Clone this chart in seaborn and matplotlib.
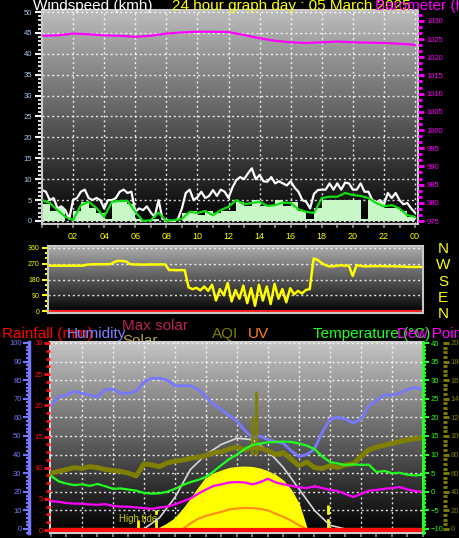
import numpy as np
import matplotlib
matplotlib.use("Agg")
import matplotlib.pyplot as plt
import seaborn as sns
from matplotlib.colors import LinearSegmentedColormap
from matplotlib.ticker import MultipleLocator, FixedLocator
from matplotlib.patches import Rectangle

# ---------------- data ----------------
hours_q = np.arange(0, 24.01, 0.25)   # 15 minute samples
hours_h = np.arange(0, 24.01, 0.5)    # 30 minute samples
hours_1 = np.arange(0, 25, 1)         # hourly samples
hour_labels = ["02", "04", "06", "08", "10", "12", "14", "16", "18", "20", "22", "00"]

wind_gust = [7.4, 7.0, 5.0, 5.5, 3.0, 3.5, 2.6, 0.5,
             5.0, 5.5, 7.0, 7.5, 5.5, 5.0, 5.5, 5.0,
             3.0, 5.0, 5.0, 5.5, 7.0, 7.5, 6.7, 7.0,
             2.2, 3.0, 2.6, 3.5, 2.0, 1.0, 5.0, 0.5,
             0.2, 0.0, 0.0, 0.5, 3.0, 6.7, 7.5, 5.0,
             5.7, 7.0, 5.5, 6.0, 7.4, 6.0, 7.5, 7.0,
             5.5, 8.0, 9.8, 10.5, 10.0, 11.4, 12.6, 10.0,
             11.0, 9.5, 9.4, 10.5, 9.0, 9.5, 9.0, 8.5,
             9.5, 8.0, 7.0, 5.0, 4.6, 3.0, 6.5, 7.4,
             7.5, 7.5, 9.0, 7.5, 9.0, 7.5, 9.2, 9.0,
             7.5, 7.5, 9.0, 7.0, 7.0, 5.0, 4.5, 5.0,
             4.0, 6.7, 5.5, 6.7, 5.0, 4.0, 4.3, 3.0,
             2.0]
wind_avg = [5.0, 4.3, 2.6, 1.0, 0.2, 3.8, 4.6, 3.1, 1.0, 4.6,
            4.8, 4.8, 2.2, 0.0, 0.2, 2.0, 0.0, 0.2, 0.5, 2.2,
            1.9, 2.4, 1.4, 2.6, 3.4, 5.0, 4.0, 4.3, 4.6, 3.6,
            3.8, 4.4, 4.3, 2.8, 2.2, 1.9, 5.5, 5.8, 5.8, 6.7,
            6.2, 6.0, 5.5, 4.3, 3.5, 3.8, 3.0, 1.4, 1.0]
wind_speed = [4.0, 2.5, 3.0, 0.0, 2.5, 4.5, 3.0, 2.0, 0.5, 4.5,
              5.0, 4.0, 0.5, 0.0, 0.5, 0.0, 0.0, 0.0, 2.0, 2.5,
              1.5, 2.5, 2.0, 2.5, 2.5, 4.5, 3.5, 5.0, 3.5, 3.5,
              5.0, 3.5, 4.5, 2.5, 0.5, 3.0, 5.0, 5.0, 5.0, 5.0,
              5.0, 0.5, 5.0, 4.5, 3.0, 3.0, 2.5, 1.0, 1.0]
pressure = [1025.9, 1026.0, 1026.5, 1026.3, 1026.0, 1025.9, 1025.6, 1025.9,
            1026.5, 1026.8, 1027.0, 1027.0, 1026.9, 1026.1, 1025.2, 1024.5,
            1024.1, 1023.9, 1024.1, 1024.3, 1024.1, 1024.0, 1023.9, 1023.7,
            1023.4]

wind_dir = [259, 259, 259, 259, 259, 259, 259, 259, 259, 259,
            265, 266, 267, 267, 267, 267, 268, 280, 287, 286,
            283, 268, 266, 266, 265, 265, 266, 266, 266, 266,
            266, 234, 234, 233, 234, 233, 135, 125, 132, 118,
            140, 115, 150, 60, 125, 90, 160, 55, 120, 70,
            145, 45, 130, 30, 150, 60, 140, 40, 155, 70,
            125, 50, 130, 95, 115, 100, 120, 125, 300, 292,
            275, 262, 255, 256, 258, 262, 258, 260, 200, 262,
            258, 255, 255, 257, 256, 257, 256, 255, 256, 255,
            255, 254, 252, 252, 252, 252, 252]
compass = ["N", "W", "S", "E", "N"]

humidity = [66, 71, 72, 74, 73, 72, 71, 75, 75, 73,
            73, 74, 79, 81, 81, 80, 77, 77, 77, 75,
            71, 67, 64, 61, 58, 53, 49, 50, 48, 47,
            46, 42, 39, 40, 43, 52, 59, 60, 59, 57,
            59, 66, 69, 72, 72, 73, 75, 76, 75]
temperature = [4.3, 2.8, 2.2, 1.8, 2.0, 1.6, 2.1, 1.5, 0.8, 0.9,
               0.6, 0.3, -0.3, -0.5, -0.4, 0.0, 0.8, 1.8, 2.6, 3.2,
               4.0, 5.5, 7.2, 8.8, 10.0, 11.5, 12.6, 13.0, 13.3, 13.4,
               13.5, 13.4, 13.0, 12.4, 11.5, 9.5, 8.0, 7.6, 7.2, 7.4,
               7.2, 7.3, 5.3, 5.6, 5.0, 5.1, 4.6, 4.4, 4.6]
dew_point = [-2.5, -2.7, -3.0, -3.2, -3.2, -3.4, -3.5, -3.3, -3.8, -4.0,
             -4.0, -4.2, -4.4, -4.6, -4.2, -4.0, -3.4, -2.6, -1.8, -0.5,
             0.6, 1.6, 2.0, 2.5, 2.6, 2.5, 2.0, 2.6, 3.5, 2.5,
             2.0, 1.6, 1.2, 1.0, 1.5, 1.0, 0.5, 0.2, -0.6, -1.4,
             -0.6, 0.3, 0.5, 0.8, 1.0, 1.3, 0.6, 0.2, 0.0]
aqi = [60, 62, 64, 66, 65, 67, 66, 64, 63, 62,
       60, 57, 70, 69, 67, 71, 73, 74, 76, 77,
       79, 82, 83, 86, 88, 85, 88, 87, 84, 80,
       82, 75, 68, 72, 66, 65, 68, 66, 69, 70,
       78, 85, 88, 90, 92, 94, 96, 97, 98]
aqi_spike_hours = [13.0, 13.2]
aqi_spike_vals = [120, 148]
solar = [0, 0, 0, 0, 0, 0, 0, 0, 0, 0,
         0, 0, 0, 0, 0, 22, 50, 95, 150, 210,
         265, 292, 308, 322, 328, 330, 328, 320, 305, 285,
         255, 205, 130, 0, 0, 0, 0, 0, 0, 0,
         0, 0, 0, 0, 0, 0, 0, 0, 0]
max_solar = [0, 0, 0, 0, 0, 0, 0, 60, 170, 320, 400, 455, 488,
             480, 420, 330, 215, 100, 20, 0, 0, 0, 0, 0, 0]
uv = [0, 0, 0, 0, 0, 0, 0, 0, 0, 0,
      0, 0, 0, 0, 0, 0, 0, 0, 0.3, 0.55,
      0.7, 0.82, 0.92, 1.05, 1.1, 1.13, 1.12, 1.08, 1.0, 0.82,
      0.65, 0.45, 0.2, 0, 0, 0, 0, 0, 0, 0,
      0, 0, 0, 0, 0, 0, 0, 0, 0]
rainfall = [0, 0, 0, 0, 0, 0, 0, 0, 0, 0, 0, 0, 0,
            0, 0, 0, 0, 0, 0, 0, 0, 0, 0, 0, 0]
tide_hours = [5.6, 6.8, 17.9]
tide_heights = [4.8, 10.2, 12.9]

# ---------------- style ----------------
sns.set_theme(style="dark")
plt.rcParams["font.family"] = ["Liberation Sans", "DejaVu Sans"]

W, H = 460, 538
fig = plt.figure(figsize=(W / 100, H / 100), dpi=100, facecolor="black")


def box(l, t, r, b):
    return fig.add_axes([l / W, 1 - b / H, (r - l) / W, (b - t) / H])


def shade(ax, top):
    cmap = LinearSegmentedColormap.from_list("bg", ["#000000", top])
    x0, x1 = ax.get_xlim()
    y0, y1 = ax.get_ylim()
    ax.imshow(np.linspace(0, 1, 128).reshape(-1, 1), cmap=cmap, origin="lower",
              extent=[x0, x1, y0, y1], aspect="auto", zorder=0)
    ax.set_xlim(x0, x1)
    ax.set_ylim(y0, y1)


def frame(ax, color="#c8c8c8"):
    for s in ax.spines.values():
        s.set_visible(True)
        s.set_color(color)
        s.set_linewidth(1.5)


def hide(ax):
    for s in ax.spines.values():
        s.set_visible(False)
    ax.grid(False)


dots = (0, (1.5, 2))

# ---------------- panel 1: wind + pressure ----------------
ax1 = box(42, 10, 418, 224)
ax1.set_xlim(0, 24.19)
ax1.set_ylim(-0.72, 50.48)
shade(ax1, "#bcbcbc")
ax1.set_axisbelow(True)
sns.lineplot(x=hours_q, y=wind_gust, ax=ax1, color="white", linewidth=1.6)
ax1.fill_between(hours_h, wind_speed, step="post", color="#c8f7c8", linewidth=0, zorder=2.1)
sns.lineplot(x=hours_h, y=wind_avg, ax=ax1, color="#10dd10", linewidth=1.6, zorder=3)
ax1.xaxis.set_major_locator(FixedLocator(list(range(2, 25, 2))))
ax1.set_xticklabels(hour_labels)
ax1.xaxis.set_minor_locator(MultipleLocator(1))
ax1.tick_params(axis="x", which="both", bottom=True, length=3, width=1.2, color="#909090",
                labelcolor="#ffff00", labelsize=6.5, pad=3)
ax1.yaxis.set_major_locator(MultipleLocator(5))
ax1.yaxis.set_minor_locator(MultipleLocator(1))
ax1.tick_params(axis="y", which="major", left=True, length=5, width=1.5, color="white",
                labelcolor="#a8c8f0", labelsize=5.5, pad=2)
ax1.tick_params(axis="y", which="minor", left=True, length=3, width=1.2, color="white")
ax1.grid(True, which="major", color="white", linestyle=dots, linewidth=1, alpha=0.85)
ax1.set_xlabel("")
ax1.set_ylabel("")
frame(ax1)

ax1p = ax1.twinx()
ax1p.set_ylim(974.18, 1032.97)
sns.lineplot(x=hours_1, y=pressure, ax=ax1p, color="#ff00ff", linewidth=1.6)
ax1p.yaxis.set_major_locator(MultipleLocator(5))
ax1p.yaxis.set_minor_locator(MultipleLocator(5 / 3))
ax1p.tick_params(axis="y", which="major", right=True, length=4, width=2, color="#ff00ff",
                 labelcolor="#ff00ff", labelsize=5.5, pad=2)
ax1p.tick_params(axis="y", which="minor", right=True, length=3, width=2, color="#ff00ff")
ax1p.set_ylabel("")
hide(ax1p)

# ---------------- panel 2: wind direction ----------------
ax2 = box(48, 246, 423, 313)
ax2.set_xlim(0, 24)
ax2.set_ylim(-11.4, 371.4)
shade(ax2, "#b0b0b0")
ax2.set_axisbelow(True)
ax2.axhline(0, color="#ff2020", linewidth=1.5)
sns.lineplot(x=hours_q, y=wind_dir, ax=ax2, color="#ffff00", linewidth=1.8)
ax2.yaxis.set_major_locator(FixedLocator([0, 90, 180, 270, 360]))
ax2.yaxis.set_minor_locator(MultipleLocator(30))
ax2.tick_params(axis="y", which="major", left=True, length=4, width=1.5, color="#ffff00",
                labelcolor="#ffff00", labelsize=5, pad=2)
ax2.tick_params(axis="y", which="minor", left=True, length=2.5, width=1.5, color="#ffff00")
ax2.tick_params(axis="x", which="both", bottom=False, labelbottom=False)
ax2.grid(True, axis="y", which="major", color="white", linestyle=dots, linewidth=1, alpha=0.85)
ax2.grid(False, axis="x")
ax2.set_xlabel("")
ax2.set_ylabel("")
frame(ax2)
for i, lab in enumerate(compass):
    fig.text(443 / W, 1 - (249 + 16.3 * i) / H, lab, color="#ffff00", fontsize=11,
             ha="center", va="center")

# ---------------- panel 3: multi-sensor ----------------
ax3 = box(50, 342, 423, 533)
ax3.set_xlim(-0.06, 24)
ax3.set_ylim(-2.15, 100.5)
shade(ax3, "#c4c4c4")
ax3.set_axisbelow(True)
ax3.xaxis.set_major_locator(FixedLocator(list(range(2, 24, 2))))
ax3.xaxis.set_minor_locator(MultipleLocator(1))
ax3.tick_params(axis="x", which="both", bottom=True, labelbottom=False, length=3, width=1.2,
                color="#909090")
ax3.yaxis.set_major_locator(MultipleLocator(10))
ax3.yaxis.set_minor_locator(MultipleLocator(2))
ax3.tick_params(axis="y", which="major", left=True, length=4, width=1.5, color="#7878ff",
                labelcolor="#7878ff", labelsize=5.5, pad=1.5)
ax3.tick_params(axis="y", which="minor", left=True, length=2.5, width=1.5, color="#7878ff")
ax3.grid(True, which="major", color="white", linestyle=dots, linewidth=1, alpha=0.85)
for s in ax3.spines.values():
    s.set_visible(False)
ax3.spines["left"].set_visible(True)
ax3.spines["left"].set_position(("outward", 15))
ax3.spines["left"].set_color("#7878ff")
ax3.spines["left"].set_linewidth(2.5)
ax3.add_patch(Rectangle((0, 0), 1, 1, transform=ax3.transAxes, fill=False,
                        edgecolor="#d0d0d0", linewidth=1.5, clip_on=False, zorder=5))
sns.lineplot(x=hours_h, y=humidity, ax=ax3, color="#7878ff", linewidth=2)
ax3.vlines(tide_hours, 0, tide_heights, colors="#ffff00", linewidth=2,
           linestyles=["solid", "dashed", "dashed"])
ax3.text(tide_hours[0], 3.8, "High tide", color="#c8c800", fontsize=7, ha="center",
         va="baseline")
ax3.set_xlabel("")
ax3.set_ylabel("")

# solar + max solar (hidden W/m2 scale)
ax_s = ax3.twinx()
ax_s.set_ylim(-21.5, 1005)
ax_s.fill_between(hours_h, solar, color="#ffff00", linewidth=0)
sns.lineplot(x=hours_h, y=solar, ax=ax_s, color="#ffff00", linewidth=1.5)
sns.lineplot(x=hours_1, y=max_solar, ax=ax_s, color="#d8d8d8", linewidth=1.2)
ax_s.set_axis_off()

# UV (hidden scale)
ax_u = ax3.twinx()
ax_u.set_ylim(-0.215, 10.05)
sns.lineplot(x=hours_h, y=uv, ax=ax_u, color="#ff8c1a", linewidth=1.5)
ax_u.set_axis_off()

# rainfall
ax_r = ax3.twinx()
ax_r.set_ylim(-0.48, 30.16)
sns.lineplot(x=hours_1, y=rainfall, ax=ax_r, color="#ff1010", linewidth=3)
ax_r.yaxis.tick_left()
ax_r.yaxis.set_major_locator(MultipleLocator(5))
ax_r.yaxis.set_minor_locator(MultipleLocator(1.25))
ax_r.tick_params(axis="y", which="major", left=True, right=False, labelleft=True,
                 labelright=False, length=4, width=2, color="#ff1010",
                 labelcolor="#ff1010", labelsize=5.5, pad=1)
ax_r.tick_params(axis="y", which="minor", left=True, right=False, length=3, width=2,
                 color="#ff1010")
ax_r.set_ylabel("")
hide(ax_r)

# AQI
ax_a = ax3.twinx()
ax_a.set_ylim(-4.3, 201)
sns.lineplot(x=hours_h, y=aqi, ax=ax_a, color="#808000", linewidth=3.5)
ax_a.vlines(aqi_spike_hours, 80, aqi_spike_vals, colors="#808000", linewidth=2)
hide(ax_a)
ax_a.spines["right"].set_visible(True)
ax_a.spines["right"].set_position(("outward", 14.4))
ax_a.spines["right"].set_linewidth(0)
ax_a.yaxis.set_major_locator(MultipleLocator(20))
ax_a.yaxis.set_minor_locator(MultipleLocator(5))
ax_a.tick_params(axis="y", which="major", right=True, length=4, width=2, color="#808000",
                 labelcolor="#808000", labelsize=5.5, pad=1.5)
ax_a.tick_params(axis="y", which="minor", right=True, length=3, width=2, color="#808000")
ax_a.set_ylabel("")

# temperature + dew point
ax_t = ax3.twinx()
ax_t.set_ylim(-11.08, 40.27)
sns.lineplot(x=hours_h, y=temperature, ax=ax_t, color="#20ff20", linewidth=1.6)
sns.lineplot(x=hours_h, y=dew_point, ax=ax_t, color="#ff00ff", linewidth=1.6)
hide(ax_t)
ax_t.spines["right"].set_visible(True)
ax_t.spines["right"].set_color("#20ff20")
ax_t.spines["right"].set_linewidth(2)
ax_t.yaxis.set_major_locator(MultipleLocator(5))
ax_t.yaxis.set_minor_locator(MultipleLocator(1))
ax_t.tick_params(axis="y", which="major", right=True, length=4, width=1.5, color="#20ff20",
                 labelcolor="#20ff20", labelsize=5.5, pad=1.5)
ax_t.tick_params(axis="y", which="minor", right=True, length=2.5, width=1.5, color="#20ff20")
ax_t.set_ylabel("")

# ---------------- titles ----------------
def ptext(x, y, s, color, z=3, size=11):
    fig.text(x / W, 1 - y / H, s, color=color, fontsize=size, ha="left", va="baseline", zorder=z)


ptext(33, 10, "Windspeed (kmh)", "white")
ptext(172, 10, "24 hour graph day : 05 March 2025", "#ffff00")
ptext(375, 10, "Barometer (hPa)", "#ff00ff")

ptext(2, 338, "Rainfall (mm)", "#ff0000")
ptext(67, 338, "Humidity", "#8080ff")
ptext(122, 345, "Solar", "#b0a040", z=-1)
ptext(122, 330, "Max solar", "#c02050")
ptext(212, 338, "AQI", "#808000")
ptext(248, 338, "UV", "#ff8020")
ptext(313, 338, "Temperature (°C)", "#20ff20")
ptext(397, 338, "Dew Point", "#ff00ff")

fig.savefig("out.png", dpi=100, facecolor="black")
